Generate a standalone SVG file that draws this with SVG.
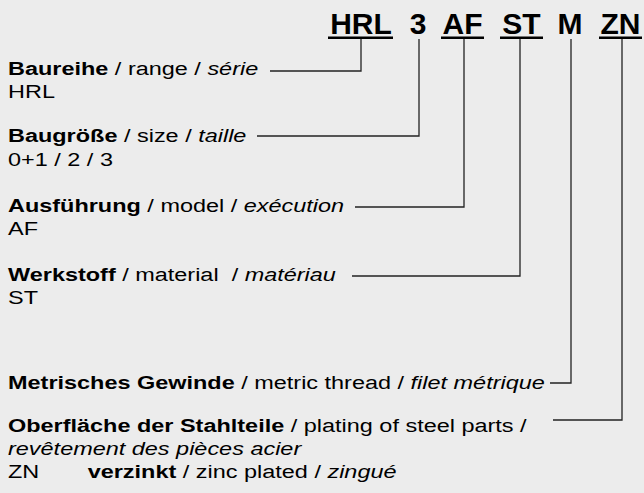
<svg xmlns="http://www.w3.org/2000/svg" width="644" height="493" viewBox="0 0 644 493">
<style>
text{font-family:"Liberation Sans",Arial,sans-serif;fill:#000}
.h{font-size:30px;font-weight:bold;text-anchor:middle}
.t{font-size:19px;white-space:pre}
.b{font-weight:bold}
.i{font-style:italic}
.ul{fill:#000}
.c{fill:none;stroke:#222;stroke-width:1.3}
</style>
<rect width="644" height="493" fill="#ececec"/>
<g id="code">
<text class="h" x="361" y="34">HRL</text>
<text class="h" x="418" y="34">3</text>
<text class="h" x="462.5" y="34">AF</text>
<text class="h" x="521.5" y="34">ST</text>
<text class="h" x="570" y="34">M</text>
<text class="h" x="620.5" y="34">ZN</text>
<rect class="ul" x="328" y="36.5" width="65" height="2.5"/>
<rect class="ul" x="441" y="36.5" width="43" height="2.5"/>
<rect class="ul" x="500" y="36.5" width="43" height="2.5"/>
<rect class="ul" x="599" y="36.5" width="43" height="2.5"/>
</g>
<g id="connectors">
<polyline class="c" points="270,71 361,71 361,39"/>
<polyline class="c" points="257,136 419,136 419,39"/>
<polyline class="c" points="355,207 464,207 464,39"/>
<polyline class="c" points="352,276 520,276 520,39"/>
<polyline class="c" points="550,383 571,383 571,39"/>
<polyline class="c" points="553,420 622,420 622,39"/>
</g>
<g id="labels" transform="scale(1.235,1)">
<g id="range">
<text class="t" x="6.5" y="75"><tspan class="b">Baureihe</tspan> / range / <tspan class="i">série</tspan></text>
<text class="t" x="6.5" y="98">HRL</text>
</g>
<g id="size">
<text class="t" x="6.5" y="142"><tspan class="b">Baugröße</tspan> / size / <tspan class="i">taille</tspan></text>
<text class="t" x="6.5" y="166">0+1 / 2 / 3</text>
</g>
<g id="model">
<text class="t" x="6.5" y="212"><tspan class="b">Ausführung</tspan> / model / <tspan class="i">exécution</tspan></text>
<text class="t" x="6.5" y="235">AF</text>
</g>
<g id="material">
<text class="t" x="6.5" y="281"><tspan class="b">Werkstoff</tspan> / material  / <tspan class="i">matériau</tspan></text>
<text class="t" x="6.5" y="304">ST</text>
</g>
<g id="thread">
<text class="t" x="6.5" y="389"><tspan class="b">Metrisches Gewinde</tspan> / metric thread / <tspan class="i">filet métrique</tspan></text>
</g>
<g id="plating">
<text class="t" x="6.5" y="432"><tspan class="b">Oberfläche der Stahlteile</tspan> / plating of steel parts /</text>
<text class="t i" x="6.5" y="455">revêtement des pièces acier</text>
<text class="t" x="6.5" y="478">ZN</text>
<text class="t" x="71" y="478"><tspan class="b">verzinkt</tspan> / zinc plated / <tspan class="i">zingué</tspan></text>
</g>
</g>
</svg>
